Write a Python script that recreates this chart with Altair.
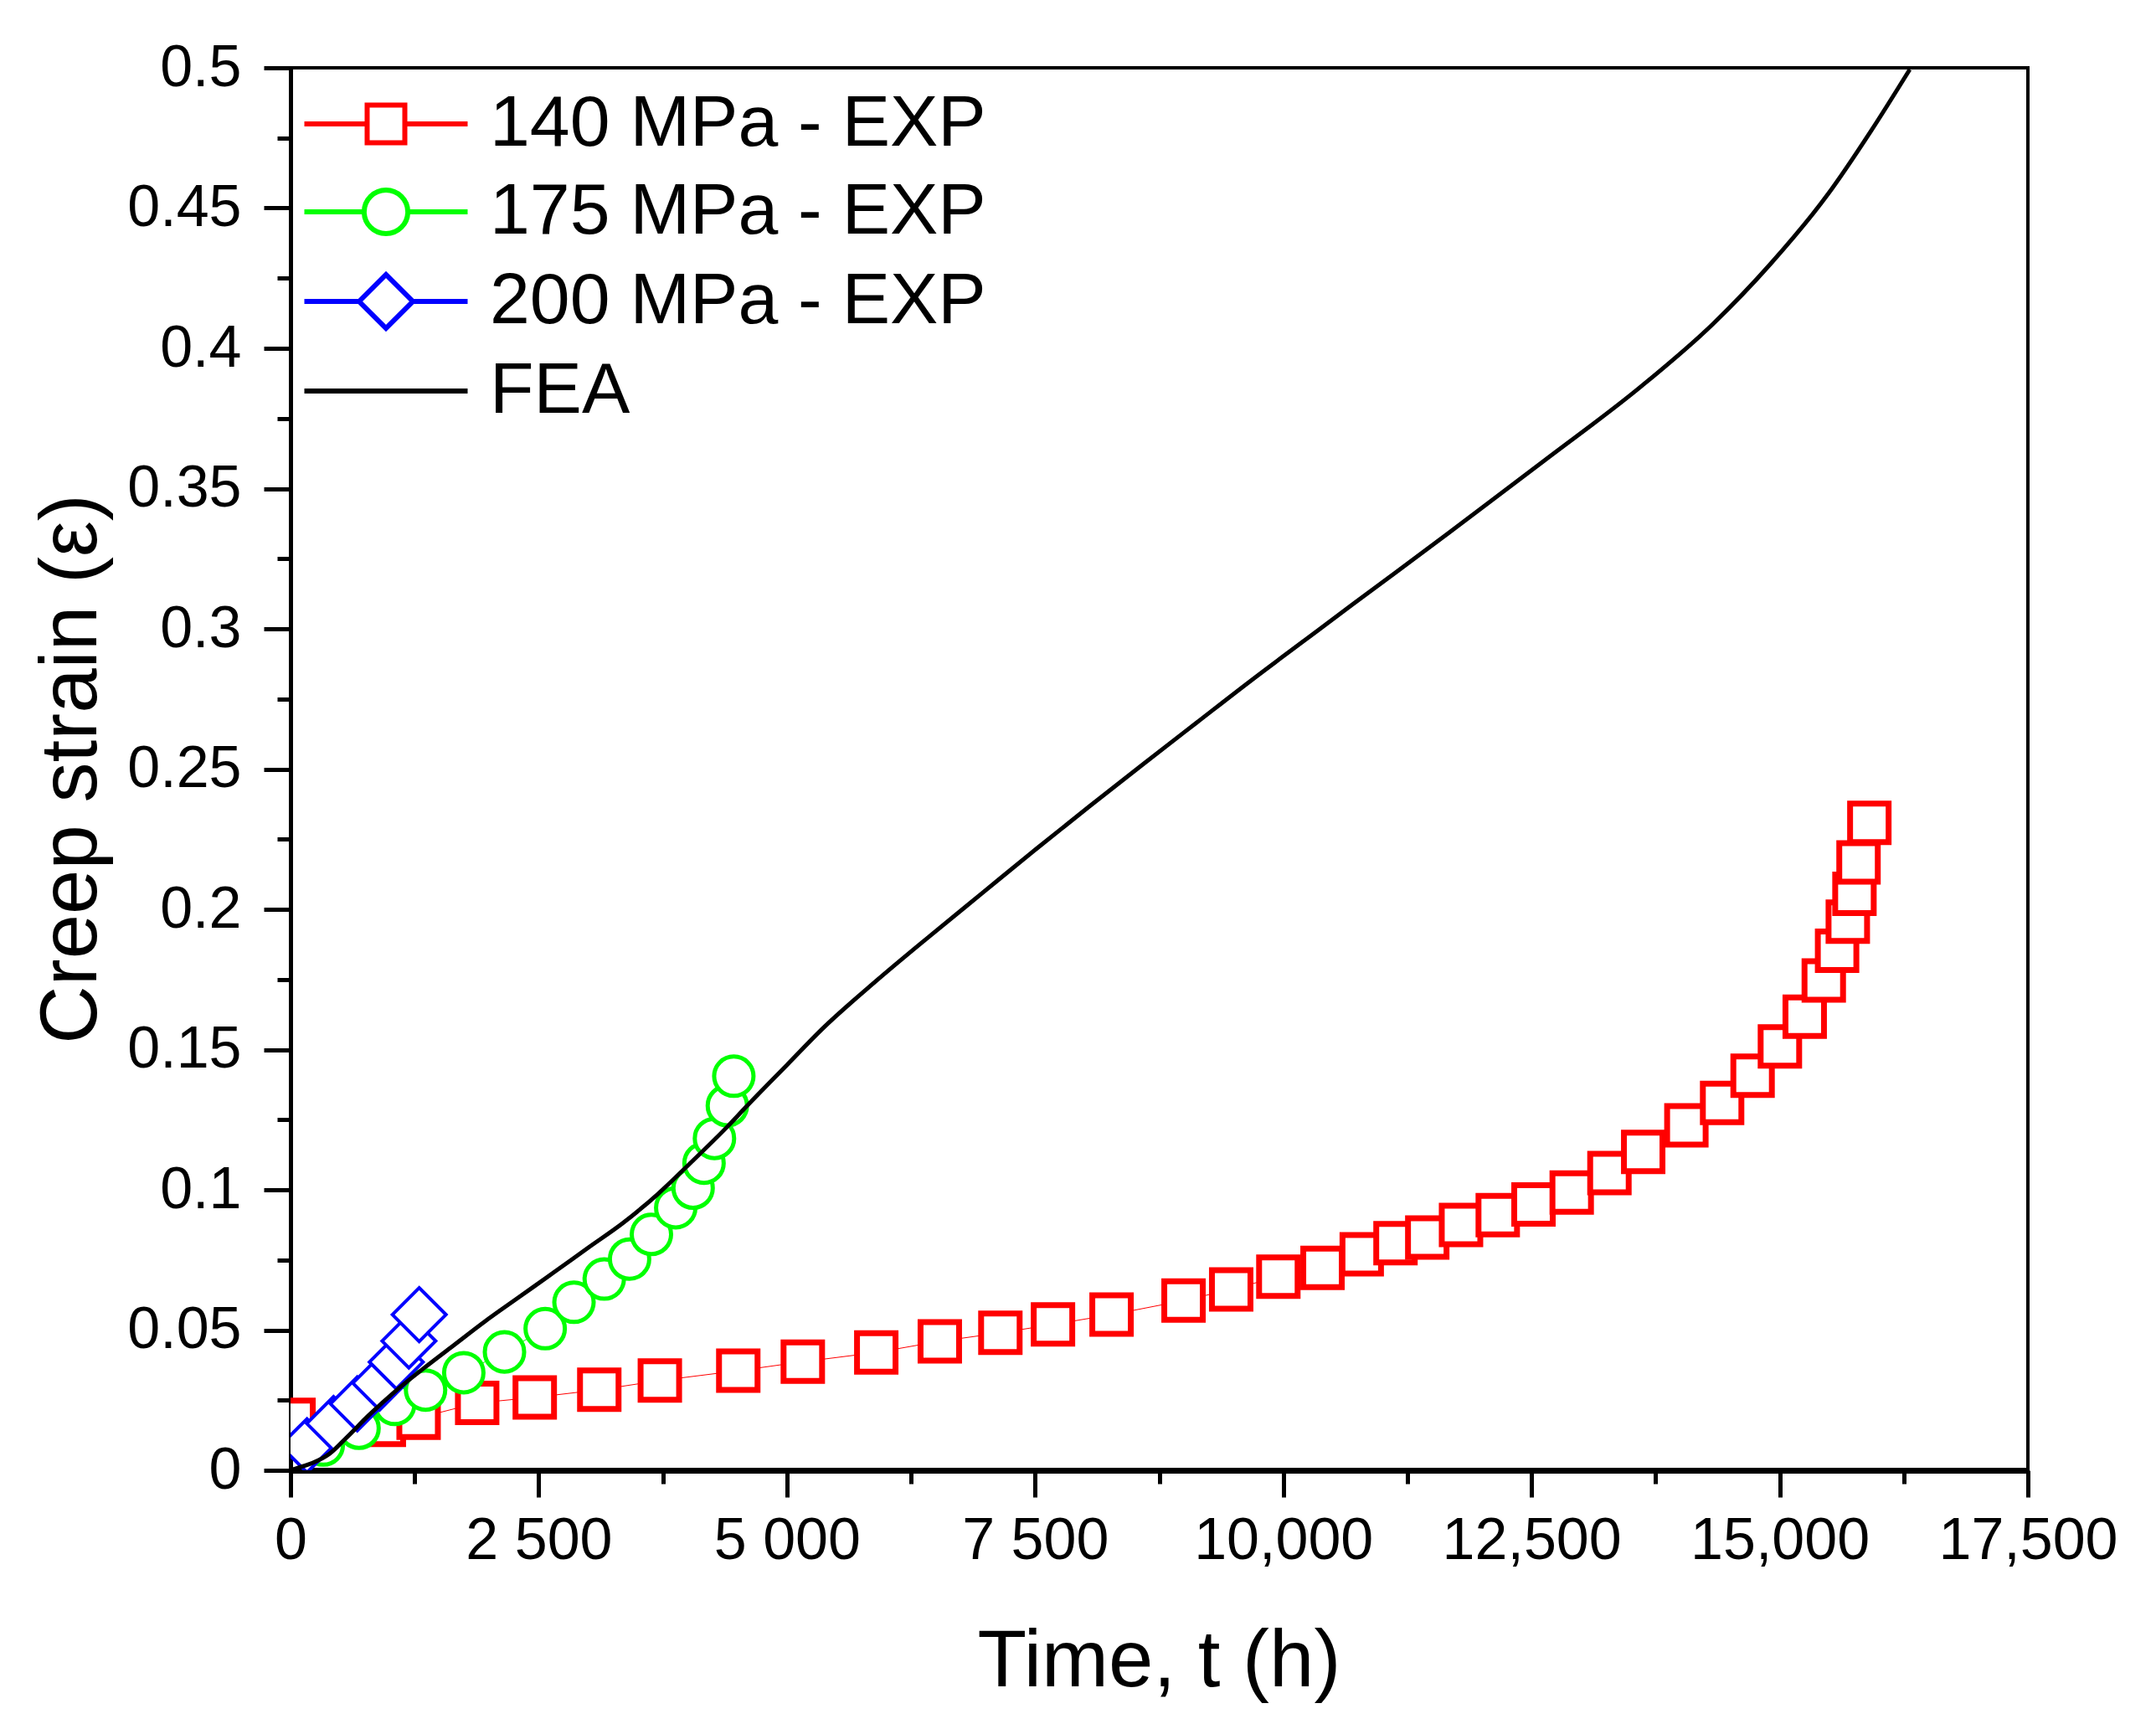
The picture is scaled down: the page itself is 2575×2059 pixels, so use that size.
import json

import altair as alt
import pandas as pd

# series names and colours
series = ["140 MPa - EXP", "175 MPa - EXP", "200 MPa - EXP", "FEA"]
series_colors = ["#ff0000", "#00ff00", "#0000ff", "#000000"]

# 140 MPa experiment
t_140 = [30, 940, 1290, 1880, 2460, 3110, 3720, 4510, 5160, 5900, 6540, 7150,
         7680, 8270, 8995, 9475, 9950, 10395, 10790, 11130, 11450, 11790,
         12160, 12520, 12905, 13285, 13625, 14060, 14420, 14727, 15002,
         15252, 15444, 15578, 15686, 15753, 15794, 15903]
e_140 = [0.018, 0.0162, 0.0187, 0.024, 0.026, 0.0287, 0.032, 0.0355, 0.0387,
         0.042, 0.046, 0.049, 0.052, 0.0555, 0.0605, 0.0645, 0.069, 0.0722,
         0.077, 0.081, 0.083, 0.0875, 0.091, 0.0948, 0.099, 0.106, 0.1135,
         0.123, 0.131, 0.1407, 0.1511, 0.1617, 0.1746, 0.1852, 0.1956,
         0.2055, 0.2167, 0.2308]

# 175 MPa experiment
t_175 = [330, 690, 1050, 1360, 1745, 2155, 2565, 2855, 3160, 3415, 3635,
         3880, 4055, 4165, 4270, 4400, 4465]
e_175 = [0.009, 0.015, 0.0235, 0.0286, 0.0348, 0.0422, 0.0505, 0.0599, 0.0682,
         0.0753, 0.0841, 0.0936, 0.1006, 0.1095, 0.1183, 0.130, 0.1405]

# 200 MPa experiment
t_200 = [166, 433, 672, 897, 1065, 1192, 1296]
e_200 = [0.0088, 0.0167, 0.0237, 0.0311, 0.0386, 0.0461, 0.0555]

# FEA prediction
t_fea = [0, 110, 220, 390, 560, 785, 1065, 1350, 1630, 1955, 2300, 2650,
         3000, 3350, 3700, 4050, 4400, 4600, 5000, 5360, 5900, 6440, 6975,
         7510, 8050, 8590, 9125, 9665, 10200, 10690, 11660, 12630, 13600,
         14325, 14905, 15485, 15920, 16310]
e_fea = [0, 0.0013, 0.0026, 0.0058, 0.0115, 0.0195, 0.0285, 0.0366, 0.0442,
         0.053, 0.0617, 0.0705, 0.0794, 0.0882, 0.0985, 0.1103, 0.1225, 0.130,
         0.1445, 0.1575, 0.1745, 0.1905, 0.2060, 0.2215, 0.2368, 0.2518,
         0.2665, 0.2813, 0.2955, 0.3085, 0.334, 0.360, 0.3863, 0.4086, 0.430,
         0.4549, 0.4775, 0.4994]

# axis ticks (major + minor) and labels of the major ones
x_ticks = [0, 1250, 2500, 3750, 5000, 6250, 7500, 8750, 10000, 11250, 12500,
           13750, 15000, 16250, 17500]
x_tick_labels = ["0", "2 500", "5 000", "7 500", "10,000", "12,500", "15,000",
                 "17,500"]
y_ticks = [0, 0.025, 0.05, 0.075, 0.1, 0.125, 0.15, 0.175, 0.2, 0.225, 0.25,
           0.275, 0.3, 0.325, 0.35, 0.375, 0.4, 0.425, 0.45, 0.475, 0.5]
y_tick_labels = ["0", "0.05", "0.1", "0.15", "0.2", "0.25", "0.3", "0.35",
                 "0.4", "0.45", "0.5"]

# legend glyphs: line stub + marker, in symbol units
legend_shapes = [
    "M-3.25,0H-0.75M0.75,0H3.25M-0.75,-0.75H0.75V0.75H-0.75Z",
    "M-3.25,0H-0.87M0.87,0H3.25M0.87,0A0.87,0.87 0 1,1 -0.87,0A0.87,0.87 0 1,1 0.87,0",
    "M-3.25,0H-1.07M1.07,0H3.25M-1.07,0L0,-1.07L1.07,0L0,1.07Z",
    "M-3.25,0H3.25",
]

FONT = "Liberation Sans"


def frame(t, e, name):
    return pd.DataFrame({"t": t, "eps": e, "series": name})


d140 = frame(t_140, e_140, series[0])
d175 = frame(t_175, e_175, series[1])
d200 = frame(t_200, e_200, series[2])
dfea = frame(t_fea, e_fea, series[3])

color_scale = alt.Scale(domain=series, range=series_colors)

x_axis = alt.Axis(
    values=x_ticks,
    labelExpr="round(datum.value / 1250) % 2 == 0 ? "
              + json.dumps(x_tick_labels) + "[round(datum.value / 2500)] : ''",
    tickSize={"condition": {"test": "round(datum.value / 1250) % 2 == 0",
                            "value": 32}, "value": 16},
    tickWidth=5, tickColor="black",
    domainWidth=7, domainColor="black",
    labelFont=FONT, labelFontSize=70, labelColor="black", labelPadding=18,
    labelFlush=False, labelOverlap=False, labelLimit=0,
    titleFont=FONT, titleFontSize=96, titleFontWeight="normal",
    titleColor="black", titleX=1037, titleY=257, titleBaseline="alphabetic",
    titleAlign="center", grid=False,
)
y_axis = alt.Axis(
    values=y_ticks,
    labelExpr="round(datum.value * 40) % 2 == 0 ? "
              + json.dumps(y_tick_labels) + "[round(datum.value * 20)] : ''",
    tickSize={"condition": {"test": "round(datum.value * 40) % 2 == 0",
                            "value": 32}, "value": 16},
    tickWidth=5, tickColor="black",
    domainWidth=5, domainColor="black",
    labelFont=FONT, labelFontSize=70, labelColor="black", labelPadding=27,
    labelFlush=False, labelOverlap=False, labelLimit=0,
    titleFont=FONT, titleFontSize=96, titleFontWeight="normal",
    titleColor="black", titleX=-233, titleY=837, titleAngle=270,
    titleBaseline="alphabetic", titleAlign="center", grid=False,
)

x_enc = alt.X("t:Q", scale=alt.Scale(domain=[0, 17500], nice=False),
              axis=x_axis, title="Time, t (h)")
y_enc = alt.Y("eps:Q", scale=alt.Scale(domain=[0, 0.5], nice=False),
              axis=y_axis, title="Creep strain (\u03b5)")

legend = alt.Legend(
    orient="none", legendX=71, legendY=24, title=None, padding=0,
    labelFont=FONT, labelFontSize=86, labelColor="black", labelOffset=81,
    labelLimit=0, symbolSize=3600, symbolStrokeWidth=6, rowPadding=19,
)
color_enc = alt.Color("series:N", scale=color_scale, legend=legend)


def exp_layer(data, shape, size, stroke_width):
    base = alt.Chart(data).encode(x=x_enc, y=y_enc, color=color_enc)
    line = base.mark_line(strokeWidth=1, clip=True)
    points = base.mark_point(shape=shape, size=size, strokeWidth=stroke_width,
                             filled=False, fill="white", opacity=1, clip=True)
    return line + points


fea = alt.Chart(dfea).mark_line(strokeWidth=5, interpolate="monotone",
                                clip=True).encode(x=x_enc, y=y_enc, color=color_enc)

# carries only the legend glyphs (no rows pass the filter)
legend_layer = alt.Chart(pd.concat([d140, d175, d200, dfea])).transform_filter(
    "datum.t < 0"
).mark_point(filled=False, strokeWidth=6, opacity=1).encode(
    x=x_enc, y=y_enc,
    color=color_enc,
    shape=alt.Shape("series:N", scale=alt.Scale(domain=series, range=legend_shapes),
                    legend=legend),
)

chart = alt.layer(
    legend_layer,
    exp_layer(d140, "square", 2116, 7),
    exp_layer(d175, "circle", 2209, 5),
    exp_layer(d200, "diamond", 4096, 4),
    fea,
).properties(
    width=2075, height=1675,
    autosize=alt.AutoSizeParams(type="none"),
    padding={"left": 339, "top": 73, "right": 145, "bottom": 290},
).configure_view(
    stroke="black", strokeWidth=4
).configure_legend(
    symbolStrokeWidth=6
)

chart.save("out.html", embed_options={"renderer": "svg", "actions": False})
